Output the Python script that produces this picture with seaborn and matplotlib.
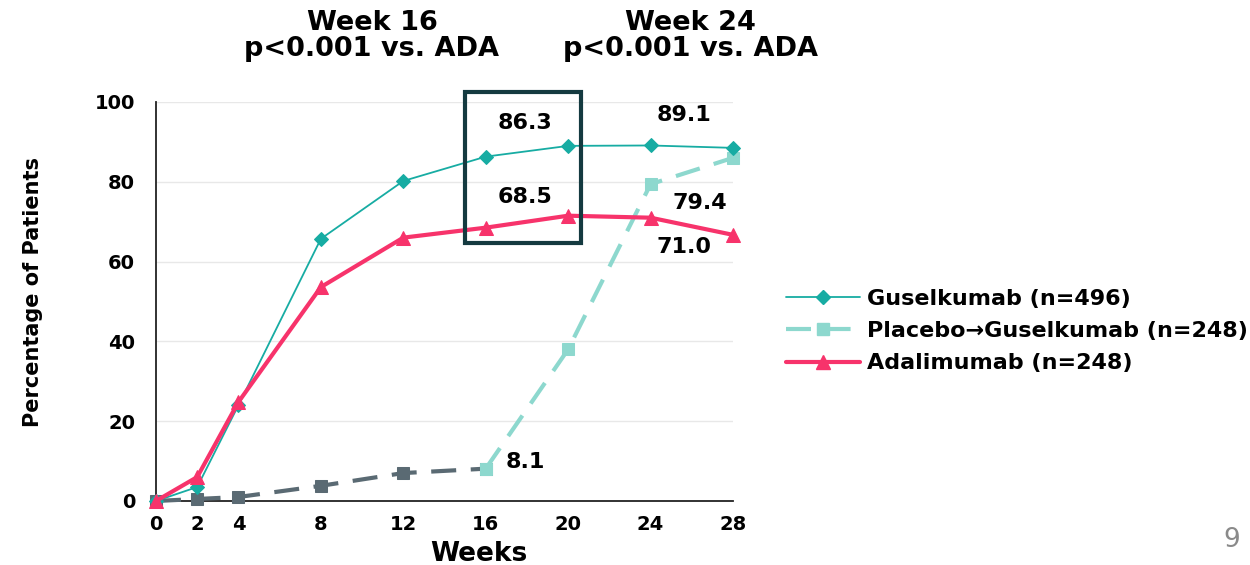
import matplotlib
matplotlib.use("Agg")
import matplotlib.pyplot as plt
from matplotlib.lines import Line2D
from matplotlib.patches import Rectangle
import seaborn as sns
import pandas as pd

sns.set_style("white")
plt.rcParams["font.family"] = ["DejaVu Sans"]
plt.rcParams["text.color"] = "#000000"
plt.rcParams["axes.labelcolor"] = "#000000"
plt.rcParams["xtick.labelcolor"] = "#000000"
plt.rcParams["ytick.labelcolor"] = "#000000"

# Response rates by visit (% of patients)
weeks = [0, 2, 4, 8, 12, 16, 20, 24, 28]
guselkumab = [0, 3.5, 24.0, 65.7, 80.2, 86.3, 89.0, 89.1, 88.5]
placebo_gus = [0, 0.5, 1.0, 3.8, 7.0, 8.1, 38.0, 79.4, 86.0]
adalimumab = [0, 6.0, 24.8, 53.6, 66.0, 68.5, 71.5, 71.0, 66.7]
crossover_week = 16

series_labels = ["Guselkumab (n=496)", "Placebo\u2192Guselkumab (n=248)", "Adalimumab (n=248)"]
y_ticks = [0, 20, 40, 60, 80, 100]

callouts = [
    (17.9, 94.7, "86.3"),
    (17.9, 76.2, "68.5"),
    (25.6, 96.7, "89.1"),
    (26.4, 74.7, "79.4"),
    (25.6, 63.7, "71.0"),
    (17.9, 9.8, "8.1"),
]

c_gus = "#17aca3"
c_pbo_dark = "#5a6a73"
c_pbo_light = "#8dd8ce"
c_ada = "#f7336b"
dash = (0, (6, 3.5))

df = pd.DataFrame({"week": weeks, "gus": guselkumab, "pbo": placebo_gus, "ada": adalimumab})
pbo_early = df[df.week <= crossover_week]
pbo_late = df[df.week >= crossover_week]

fig = plt.figure(figsize=(12.5, 5.65), dpi=100)
ax = fig.add_axes([0.1248, 0.1133, 0.4616, 0.7062])

ax.set_axisbelow(True)
ax.yaxis.grid(True, color="#e8e8e8", linewidth=1.0)

sns.lineplot(data=pbo_early, x="week", y="pbo", ax=ax, color=c_pbo_dark, linewidth=3,
             linestyle=dash, marker="s", markersize=9, markeredgecolor=c_pbo_dark,
             clip_on=False, zorder=3)
sns.lineplot(data=pbo_late, x="week", y="pbo", ax=ax, color=c_pbo_light, linewidth=3,
             linestyle=dash, marker="s", markersize=9, markeredgecolor=c_pbo_light,
             clip_on=False, zorder=3)
sns.lineplot(data=df, x="week", y="gus", ax=ax, color=c_gus, linewidth=1.3,
             marker="D", markersize=7, markeredgecolor=c_gus, clip_on=False, zorder=4)
sns.lineplot(data=df, x="week", y="ada", ax=ax, color=c_ada, linewidth=3,
             marker="^", markersize=10, markeredgecolor=c_ada, clip_on=False, zorder=5)

ax.set_xlim(0, 28)
ax.set_ylim(0, 100)
ax.set_xticks(weeks)
ax.set_yticks(y_ticks)
ax.tick_params(axis="both", direction="out", length=6, width=1.2, color="#333333",
               labelsize=14, labelcolor="#000000")
ax.tick_params(axis="x", pad=4)
ax.tick_params(axis="y", pad=9)
for lab in ax.get_xticklabels() + ax.get_yticklabels():
    lab.set_fontweight("bold")
ax.set_xlabel("Weeks", fontsize=19, fontweight="bold", color="#000000")
ax.xaxis.set_label_coords(0.56, -0.10)
ax.set_ylabel("Percentage of Patients", fontsize=15, fontweight="bold", color="#000000")
ax.yaxis.set_label_coords(-0.195, 0.524)
for side in ("top", "right"):
    ax.spines[side].set_visible(False)
for side in ("left", "bottom"):
    ax.spines[side].set_color("#222222")
    ax.spines[side].set_linewidth(1.3)

ax.add_patch(Rectangle((15.0, 64.7), 5.6, 37.8, fill=False, edgecolor="#143a40",
                       linewidth=3, clip_on=False, zorder=6))

for x, y, t in callouts:
    ax.text(x, y, t, ha="center", va="center", fontsize=16, fontweight="bold", color="#000000")

for xc, wk in [(0.2976, "Week 16"), (0.552, "Week 24")]:
    fig.text(xc, 0.936, f"{wk}\np<0.001 vs. ADA", ha="center", va="center", fontsize=19.5,
             fontweight="bold", linespacing=1.0, color="#000000")

handles = [
    Line2D([], [], color=c_gus, linewidth=1.3, marker="D", markersize=7),
    Line2D([], [], color=c_pbo_light, linewidth=3, linestyle=dash, marker="s", markersize=9),
    Line2D([], [], color=c_ada, linewidth=3, marker="^", markersize=10),
]
leg = fig.legend(handles, series_labels, loc="center left", bbox_to_anchor=(0.613, 0.414),
                 frameon=False, handlelength=3.3, handletextpad=0.35, labelspacing=0.55,
                 prop={"size": 16, "weight": "bold"}, labelcolor="#000000")

fig.text(0.992, 0.045, "9", ha="right", va="center", fontsize=19, color="#8a8a8a")

fig.savefig("out.png", dpi=100)
